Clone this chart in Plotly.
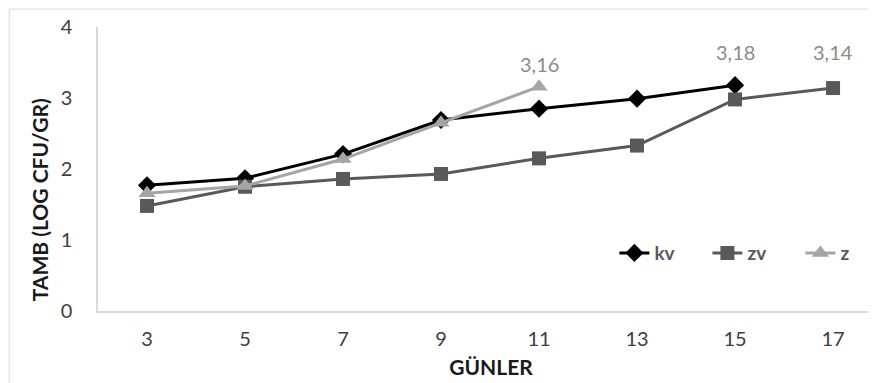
import plotly.graph_objects as go

days = ["3", "5", "7", "9", "11", "13", "15", "17"]
kv = [1.77, 1.87, 2.21, 2.69, 2.85, 2.99, 3.18]
zv = [1.48, 1.75, 1.86, 1.93, 2.15, 2.33, 2.98, 3.14]
z = [1.66, 1.76, 2.14, 2.65, 3.16]

font = "Lato, 'Open Sans', sans-serif"
lab_font = dict(size=20, color="#8c8c8c", family=font)
fig = go.Figure()
fig.add_trace(go.Scatter(x=days[:len(kv)], y=kv, name="kv", mode="lines+markers",
                         line=dict(color="#000000", width=3),
                         marker=dict(symbol="diamond", size=14, color="#000000")))
fig.add_trace(go.Scatter(x=days[:len(zv)], y=zv, name="zv", mode="lines+markers",
                         line=dict(color="#595959", width=3),
                         marker=dict(symbol="square", size=14, color="#595959")))
fig.add_trace(go.Scatter(x=days[:len(z)], y=z, name="z", mode="lines+markers",
                         line=dict(color="#a5a5a5", width=3),
                         marker=dict(symbol="triangle-up", size=15, color="#a5a5a5")))

annotations = []
for series, shift in ((z, 23), (kv, 33), (zv, 36)):
    n = len(series)
    annotations.append(dict(x=n - 1, y=series[-1], xref="x", yref="y",
                            text=f"{series[-1]:.2f}".replace(".", ","),
                            showarrow=False, yshift=shift, font=lab_font))
annotations.append(dict(x=-0.075, y=0.39, xref="paper", yref="paper",
                        xanchor="center", yanchor="middle",
                        text="<b>TAMB (LOG CFU/GR)</b>", textangle=-90, showarrow=False,
                        font=dict(size=21, color="#1a1a1a", family=font)))

fig.update_layout(
    width=876, height=383,
    margin=dict(l=90, r=0, t=19, b=80, autoexpand=False),
    paper_bgcolor="white", plot_bgcolor="white",
    font=dict(family=font, size=20, color="#404040"),
    showlegend=True,
    legend=dict(orientation="h", x=0.657, y=0.204, xanchor="left", yanchor="middle",
                entrywidth=48, entrywidthmode="pixels",
                font=dict(size=19, color="#595959", family=font, weight="bold"),
                bgcolor="rgba(0,0,0,0)", tracegroupgap=0),
    xaxis=dict(type="category", range=[-0.5, 7.52], showgrid=False, automargin=False,
               showline=True, linecolor="#d9d9d9", linewidth=1.5, ticks="",
               ticklabelstandoff=9,
               tickfont=dict(size=20, color="#404040"),
               title=dict(text="<b>GÜNLER</b>", font=dict(size=21, color="#1a1a1a"), standoff=12)),
    yaxis=dict(range=[0, 4], dtick=1, showgrid=False, zeroline=False, automargin=False,
               showline=True, linecolor="#d9d9d9", linewidth=1.5, ticks="",
               ticklabelstandoff=20,
               tickfont=dict(size=20, color="#404040")),
    annotations=annotations,
    shapes=[dict(type="rect", xref="paper", yref="paper", x0=-0.113, y0=-0.4, x1=1.05, y1=1.063,
                 line=dict(color="#d9d9d9", width=1))],
)
fig.write_html("out.html")
